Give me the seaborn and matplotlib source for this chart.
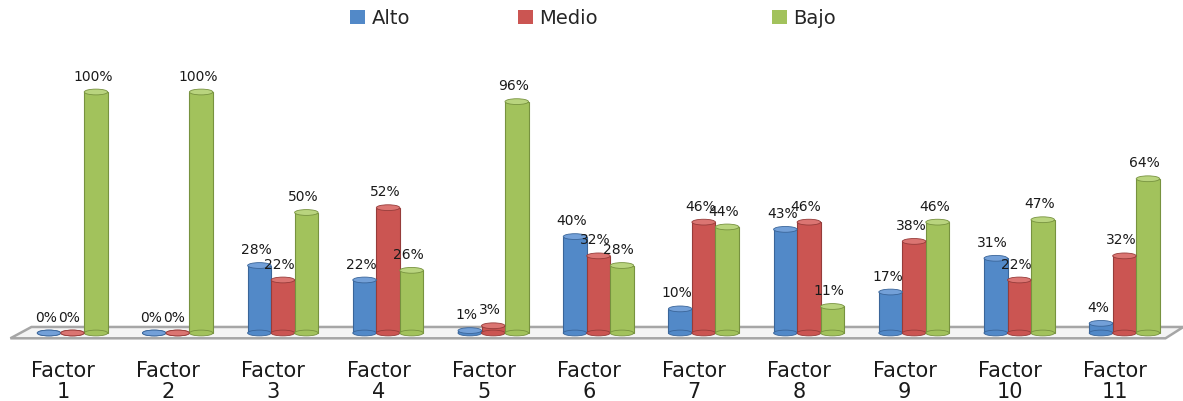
import numpy as np
import pandas as pd
import matplotlib.pyplot as plt
import seaborn as sns
from matplotlib.patches import Ellipse, Polygon, Patch

# ── Data ─────────────────────────────────────────────────────────────────────
factors = [f"Factor\n{i}" for i in range(1, 12)]
levels = ["Alto", "Medio", "Bajo"]
alto  = [0, 0, 28, 22, 1, 40, 10, 43, 17, 31, 4]
medio = [0, 0, 22, 52, 3, 32, 46, 46, 38, 22, 32]
bajo  = [100, 100, 50, 26, 96, 28, 44, 11, 46, 47, 64]

colors = ["#5289C8", "#CB5552", "#A2C25C"]
edges  = ["#3A6599", "#963C3A", "#77923F"]
caps   = ["#73A0D8", "#DB7572", "#B9D47E"]

df = pd.DataFrame({
    "factor": factors * 3,
    "nivel": np.repeat(levels, len(factors)),
    "valor": alto + medio + bajo,
})

# ── Plot ─────────────────────────────────────────────────────────────────────
sns.set_style("white")
plt.rcParams["font.family"] = ["DejaVu Sans"]

fig = plt.figure(figsize=(11.83, 4.01), dpi=100)
ax = fig.add_axes([10.4 / 1183, 68 / 401, 1157.2 / 1183, 241 / 401])

sns.barplot(data=df, x="factor", y="valor", hue="nivel", hue_order=levels,
            palette=colors, width=0.67, gap=0.0, saturation=1,
            legend=False, ax=ax, zorder=2)

bars = list(ax.patches)

# floor platform
floor = Polygon([[-0.5, -2.2], [10.48, -2.2], [10.65, 2.5], [-0.3, 2.5]],
                closed=True, facecolor="#F4F4F4", edgecolor="#A6A6A6",
                linewidth=1.8, zorder=0, clip_on=False)
ax.add_patch(floor)

n = len(factors)
shift = 0.09   # the 3D view pushes the columns a bit to the right
for k, bar in enumerate(bars):
    s = k // n
    bar.set_x(bar.get_x() + shift)
    x0 = bar.get_x()
    w = bar.get_width()
    h = bar.get_height()
    bar.set_edgecolor(edges[s])
    bar.set_linewidth(0.8)
    bar.set_clip_on(False)
    # bottom & top caps to mimic the cylinders
    ax.add_patch(Ellipse((x0 + w / 2, 0), w, 2.4, facecolor=colors[s],
                         edgecolor=edges[s], lw=0.6, zorder=2.5, clip_on=False))
    ax.add_patch(Ellipse((x0 + w / 2, h), w, 2.4, facecolor=caps[s],
                         edgecolor=edges[s], lw=0.6, zorder=3, clip_on=False))
    ax.text(x0 + w / 2 - 0.03, h + 3.5, f"{h:.0f}%", ha="center", va="bottom",
            fontsize=10, color="#1A1A1A", zorder=4)

ax.set_xlim(-0.5, n - 0.5)
ax.set_ylim(0, 100)
ax.set_xlabel("")
ax.set_ylabel("")
ax.set_yticks([])
ax.tick_params(axis="x", length=0, pad=20, labelsize=15)
for lab in ax.get_xticklabels():
    lab.set_linespacing(1.05)
    lab.set_color("#1A1A1A")
sns.despine(ax=ax, left=True, bottom=True)

# legend entries spread like the original
legend_x = [350 / 1183, 518 / 1183, 772 / 1183]
for lev, c, lx in zip(levels, colors, legend_x):
    fig.legend([Patch(facecolor=c, edgecolor="none")], [lev], loc="center left",
               bbox_to_anchor=(lx, 0.955), frameon=False, fontsize=14,
               handlelength=0.75, handleheight=0.75, handletextpad=0.35,
               borderpad=0, borderaxespad=0)

plt.savefig("out.png", dpi=100)
